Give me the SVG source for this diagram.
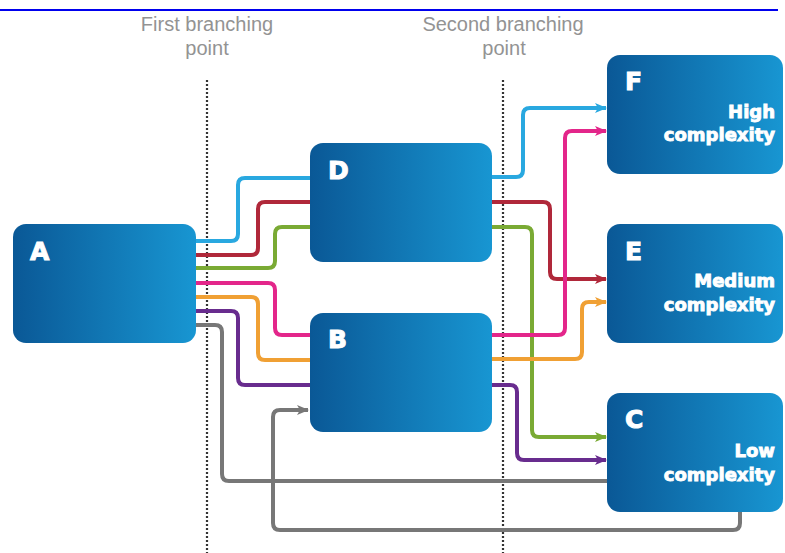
<svg xmlns="http://www.w3.org/2000/svg" width="785" height="553" viewBox="0 0 785 553">
<defs>
<linearGradient id="box" x1="0" y1="0" x2="1" y2="0">
<stop offset="0" stop-color="#0a5896"/>
<stop offset="1" stop-color="#1896d2"/>
</linearGradient>
<marker id="m-cyan" viewBox="0 0 12 10" refX="11" refY="5" markerWidth="12" markerHeight="10" markerUnits="userSpaceOnUse" orient="auto"><path d="M0,0 L12,5 L0,10 L3,5 z" fill="#29a8e0"/></marker>
<marker id="m-red" viewBox="0 0 12 10" refX="11" refY="5" markerWidth="12" markerHeight="10" markerUnits="userSpaceOnUse" orient="auto"><path d="M0,0 L12,5 L0,10 L3,5 z" fill="#b0283a"/></marker>
<marker id="m-green" viewBox="0 0 12 10" refX="11" refY="5" markerWidth="12" markerHeight="10" markerUnits="userSpaceOnUse" orient="auto"><path d="M0,0 L12,5 L0,10 L3,5 z" fill="#7aaa34"/></marker>
<marker id="m-pink" viewBox="0 0 12 10" refX="11" refY="5" markerWidth="12" markerHeight="10" markerUnits="userSpaceOnUse" orient="auto"><path d="M0,0 L12,5 L0,10 L3,5 z" fill="#e3268a"/></marker>
<marker id="m-orange" viewBox="0 0 12 10" refX="11" refY="5" markerWidth="12" markerHeight="10" markerUnits="userSpaceOnUse" orient="auto"><path d="M0,0 L12,5 L0,10 L3,5 z" fill="#f0a034"/></marker>
<marker id="m-purple" viewBox="0 0 12 10" refX="11" refY="5" markerWidth="12" markerHeight="10" markerUnits="userSpaceOnUse" orient="auto"><path d="M0,0 L12,5 L0,10 L3,5 z" fill="#682c8e"/></marker>
<marker id="m-gray" viewBox="0 0 12 10" refX="11" refY="5" markerWidth="12" markerHeight="10" markerUnits="userSpaceOnUse" orient="auto"><path d="M0,0 L12,5 L0,10 L3,5 z" fill="#777777"/></marker>
</defs>
<style>
.box{fill:url(#box);}
.letter{font-family:"DejaVu Sans",sans-serif;font-weight:bold;font-size:25px;fill:#ffffff;stroke:#ffffff;stroke-width:1;}
.desc{font-family:"DejaVu Sans",sans-serif;font-weight:bold;font-size:18px;fill:#ffffff;stroke:#ffffff;stroke-width:0.9;text-anchor:end;}
.head{font-family:"Liberation Sans",Arial,sans-serif;font-size:20px;fill:#939393;text-anchor:middle;}
.dots{stroke:#333333;stroke-width:2.2;stroke-dasharray:2 2;fill:none;}
.c{fill:none;stroke-width:4;stroke-linejoin:round;}
.cyan{stroke:#29a8e0;}
.red{stroke:#b0283a;}
.green{stroke:#7aaa34;}
.pink{stroke:#e3268a;}
.orange{stroke:#f0a034;}
.purple{stroke:#682c8e;}
.gray{stroke:#777777;}
</style>
<rect x="0" y="0" width="785" height="553" fill="#ffffff"/>
<line x1="0" y1="10" x2="778" y2="10" stroke="#0000ee" stroke-width="2"/>
<g id="headings">
<text class="head" x="207" y="31">First branching</text>
<text class="head" x="207" y="55">point</text>
<text class="head" x="503" y="31">Second branching</text>
<text class="head" x="504" y="55">point</text>
</g>
<g id="branch-lines">
<line class="dots" x1="207" y1="80" x2="207" y2="553"/>
<line class="dots" x1="503" y1="80" x2="503" y2="553"/>
</g>
<g id="node-A"><rect class="box" x="13" y="224" width="183" height="119" rx="13"/><text class="letter" x="30" y="260">A</text></g>
<g id="node-D"><rect class="box" x="310" y="143" width="182" height="119" rx="13"/><text class="letter" x="328" y="179">D</text></g>
<g id="node-B"><rect class="box" x="310" y="313" width="182" height="119" rx="13"/><text class="letter" x="328" y="348">B</text></g>
<g id="node-F"><rect class="box" x="607" y="55" width="176" height="119" rx="13"/><text class="letter" x="625" y="90">F</text><text class="desc" x="775" y="118">High</text><text class="desc" x="775" y="141">complexity</text></g>
<g id="node-E"><rect class="box" x="607" y="224" width="176" height="119" rx="13"/><text class="letter" x="625" y="260">E</text><text class="desc" x="775" y="287">Medium</text><text class="desc" x="775" y="311">complexity</text></g>
<g id="node-C"><rect class="box" x="607" y="393" width="176" height="119" rx="13"/><text class="letter" x="625" y="428">C</text><text class="desc" x="775" y="457">Low</text><text class="desc" x="775" y="481">complexity</text></g>
<g id="connectors">
<path class="c gray" d="M196,325 H215 Q222,325 222,332 V474 Q222,481 229,481 H607"/>
<path class="c gray" d="M740,512 V523 Q740,530 733,530 H280 Q273,530 273,523 V417 Q273,410 280,410 H308" marker-end="url(#m-gray)"/>
<path class="c cyan" d="M196,241 H231 Q238,241 238,234 V185 Q238,178 245,178 H310"/>
<path class="c red" d="M196,255 H251 Q258,255 258,248 V209 Q258,202 265,202 H310"/>
<path class="c green" d="M196,268 H268 Q275,268 275,261 V234 Q275,227 282,227 H310"/>
<path class="c pink" d="M196,283 H268 Q275,283 275,290 V328 Q275,335 282,335 H310"/>
<path class="c orange" d="M196,297 H251 Q258,297 258,304 V353 Q258,360 265,360 H310"/>
<path class="c purple" d="M196,311 H231 Q238,311 238,318 V378 Q238,385 245,385 H310"/>
<path class="c cyan" d="M492,177 H516 Q523,177 523,170 V115 Q523,108 530,108 H606" marker-end="url(#m-cyan)"/>
<path class="c red" d="M492,202 H543 Q550,202 550,209 V272 Q550,279 557,279 H606" marker-end="url(#m-red)"/>
<path class="c green" d="M492,227 H525 Q532,227 532,234 V430 Q532,437 539,437 H606" marker-end="url(#m-green)"/>
<path class="c pink" d="M492,335 H558 Q565,335 565,328 V138 Q565,131 572,131 H606" marker-end="url(#m-pink)"/>
<path class="c orange" d="M492,359 H575 Q582,359 582,352 V309 Q582,302 589,302 H606" marker-end="url(#m-orange)"/>
<path class="c purple" d="M492,385 H510 Q517,385 517,392 V453 Q517,460 524,460 H606" marker-end="url(#m-purple)"/>
</g>
</svg>
